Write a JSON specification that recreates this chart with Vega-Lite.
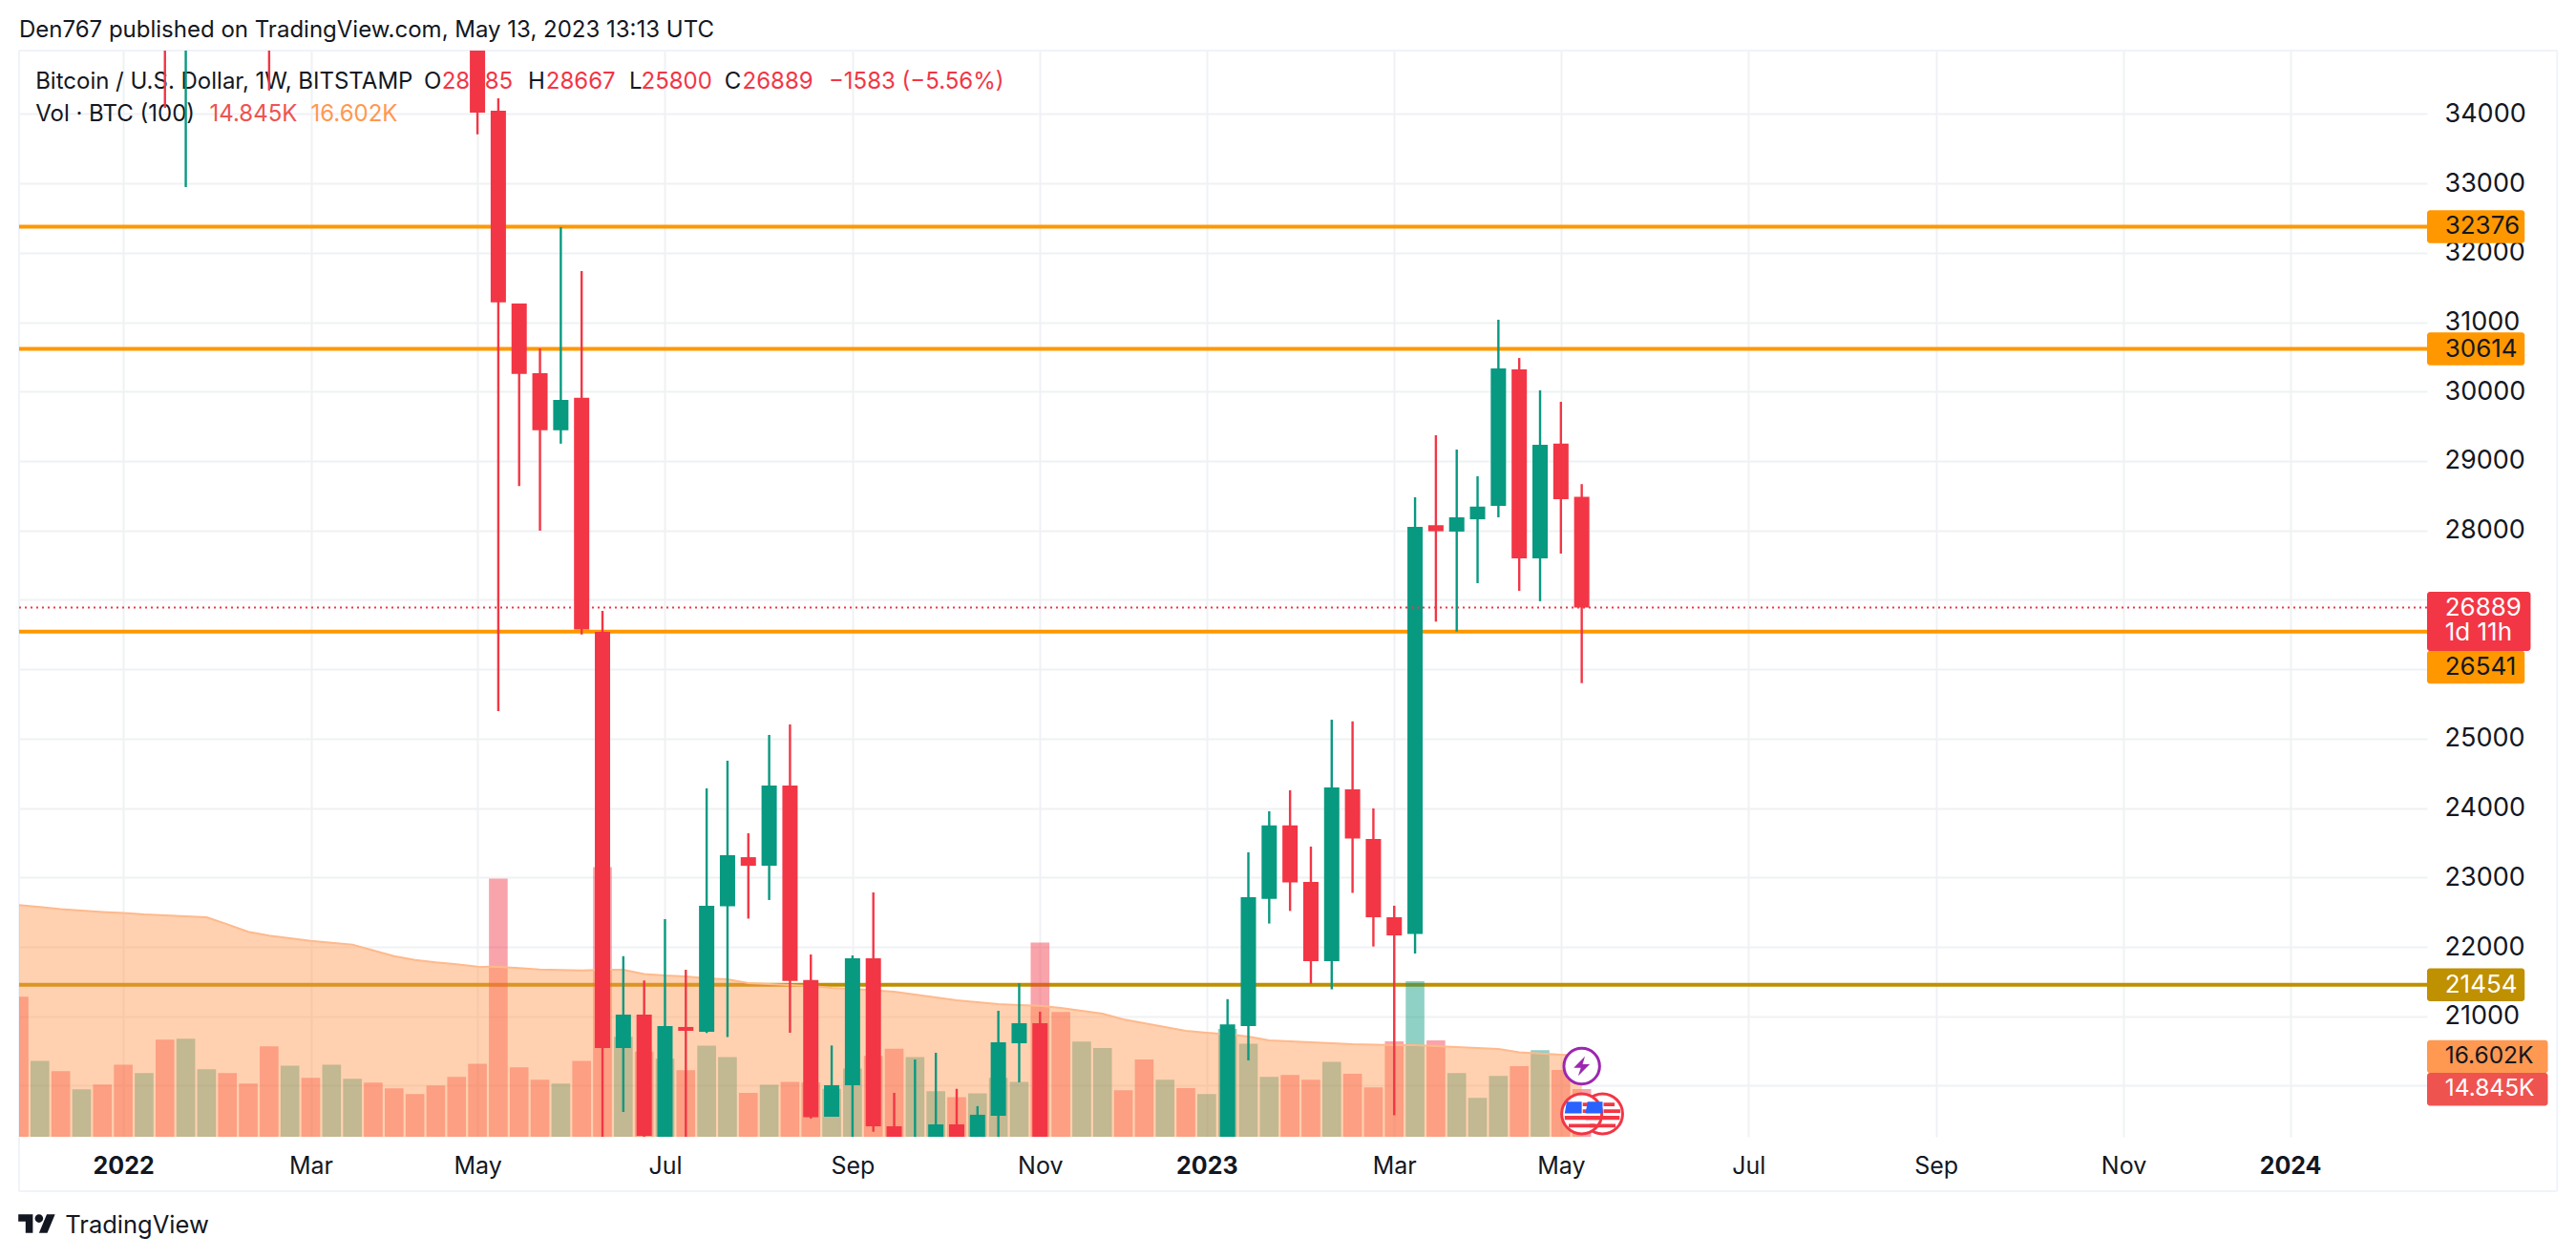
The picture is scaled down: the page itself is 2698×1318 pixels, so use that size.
{
  "$schema": "https://vega.github.io/schema/vega-lite/v6.json",
  "autosize": "none",
  "padding": {"left": 20, "top": 53, "right": 156, "bottom": 127},
  "width": 2522,
  "height": 1138,
  "background": "#ffffff",
  "config": {"view": {"stroke": null}, "font": "Inter"},
  "datasets": {
    "volume": [
      {"date":"2021-11-29","vol":19.70,"ma":24.53,"dir":"down"},
      {"date":"2021-12-06","vol":16.33,"ma":24.43,"dir":"up"},
      {"date":"2021-12-13","vol":15.78,"ma":24.32,"dir":"down"},
      {"date":"2021-12-20","vol":14.83,"ma":24.24,"dir":"up"},
      {"date":"2021-12-27","vol":15.08,"ma":24.17,"dir":"down"},
      {"date":"2022-01-03","vol":16.13,"ma":24.12,"dir":"down"},
      {"date":"2022-01-10","vol":15.68,"ma":24.04,"dir":"up"},
      {"date":"2022-01-17","vol":17.44,"ma":23.99,"dir":"down"},
      {"date":"2022-01-24","vol":17.49,"ma":23.94,"dir":"up"},
      {"date":"2022-01-31","vol":15.88,"ma":23.89,"dir":"up"},
      {"date":"2022-02-07","vol":15.68,"ma":23.52,"dir":"down"},
      {"date":"2022-02-14","vol":15.13,"ma":23.12,"dir":"down"},
      {"date":"2022-02-21","vol":17.09,"ma":22.92,"dir":"down"},
      {"date":"2022-02-28","vol":16.08,"ma":22.78,"dir":"up"},
      {"date":"2022-03-07","vol":15.43,"ma":22.65,"dir":"down"},
      {"date":"2022-03-14","vol":16.13,"ma":22.55,"dir":"up"},
      {"date":"2022-03-21","vol":15.38,"ma":22.45,"dir":"up"},
      {"date":"2022-03-28","vol":15.18,"ma":22.14,"dir":"down"},
      {"date":"2022-04-04","vol":14.88,"ma":21.84,"dir":"down"},
      {"date":"2022-04-11","vol":14.58,"ma":21.64,"dir":"down"},
      {"date":"2022-04-18","vol":15.03,"ma":21.51,"dir":"down"},
      {"date":"2022-04-25","vol":15.48,"ma":21.41,"dir":"down"},
      {"date":"2022-05-02","vol":16.18,"ma":21.29,"dir":"down"},
      {"date":"2022-05-09","vol":25.93,"ma":21.27,"dir":"down"},
      {"date":"2022-05-16","vol":15.98,"ma":21.21,"dir":"down"},
      {"date":"2022-05-23","vol":15.33,"ma":21.14,"dir":"down"},
      {"date":"2022-05-30","vol":15.13,"ma":21.11,"dir":"up"},
      {"date":"2022-06-06","vol":16.33,"ma":21.09,"dir":"down"},
      {"date":"2022-06-13","vol":26.53,"ma":21.12,"dir":"down"},
      {"date":"2022-06-20","vol":17.60,"ma":21.12,"dir":"up"},
      {"date":"2022-06-27","vol":16.82,"ma":20.90,"dir":"down"},
      {"date":"2022-07-04","vol":16.44,"ma":20.82,"dir":"up"},
      {"date":"2022-07-11","vol":15.83,"ma":20.77,"dir":"down"},
      {"date":"2022-07-18","vol":17.13,"ma":20.67,"dir":"up"},
      {"date":"2022-07-25","vol":16.53,"ma":20.62,"dir":"up"},
      {"date":"2022-08-01","vol":14.64,"ma":20.42,"dir":"down"},
      {"date":"2022-08-08","vol":15.07,"ma":20.37,"dir":"up"},
      {"date":"2022-08-15","vol":15.22,"ma":20.32,"dir":"down"},
      {"date":"2022-08-22","vol":15.19,"ma":20.27,"dir":"down"},
      {"date":"2022-08-29","vol":14.86,"ma":20.17,"dir":"up"},
      {"date":"2022-09-05","vol":15.92,"ma":20.12,"dir":"up"},
      {"date":"2022-09-12","vol":16.59,"ma":20.04,"dir":"down"},
      {"date":"2022-09-19","vol":16.97,"ma":19.97,"dir":"down"},
      {"date":"2022-09-26","vol":16.53,"ma":19.82,"dir":"up"},
      {"date":"2022-10-03","vol":14.73,"ma":19.67,"dir":"up"},
      {"date":"2022-10-10","vol":14.42,"ma":19.52,"dir":"down"},
      {"date":"2022-10-17","vol":14.62,"ma":19.42,"dir":"up"},
      {"date":"2022-10-24","vol":15.43,"ma":19.31,"dir":"up"},
      {"date":"2022-10-31","vol":15.22,"ma":19.26,"dir":"up"},
      {"date":"2022-11-07","vol":22.56,"ma":19.23,"dir":"down"},
      {"date":"2022-11-14","vol":18.90,"ma":19.11,"dir":"down"},
      {"date":"2022-11-21","vol":17.34,"ma":18.96,"dir":"up"},
      {"date":"2022-11-28","vol":17.00,"ma":18.81,"dir":"up"},
      {"date":"2022-12-05","vol":14.78,"ma":18.51,"dir":"down"},
      {"date":"2022-12-12","vol":16.40,"ma":18.31,"dir":"down"},
      {"date":"2022-12-19","vol":15.33,"ma":18.11,"dir":"up"},
      {"date":"2022-12-26","vol":14.89,"ma":17.91,"dir":"down"},
      {"date":"2023-01-02","vol":14.58,"ma":17.81,"dir":"up"},
      {"date":"2023-01-09","vol":18.01,"ma":17.73,"dir":"up"},
      {"date":"2023-01-16","vol":17.23,"ma":17.61,"dir":"up"},
      {"date":"2023-01-23","vol":15.48,"ma":17.41,"dir":"up"},
      {"date":"2023-01-30","vol":15.59,"ma":17.36,"dir":"down"},
      {"date":"2023-02-06","vol":15.33,"ma":17.30,"dir":"down"},
      {"date":"2023-02-13","vol":16.28,"ma":17.25,"dir":"up"},
      {"date":"2023-02-20","vol":15.65,"ma":17.20,"dir":"down"},
      {"date":"2023-02-27","vol":14.93,"ma":17.18,"dir":"down"},
      {"date":"2023-03-06","vol":17.35,"ma":17.15,"dir":"down"},
      {"date":"2023-03-13","vol":20.52,"ma":17.15,"dir":"up"},
      {"date":"2023-03-20","vol":17.41,"ma":17.10,"dir":"down"},
      {"date":"2023-03-27","vol":15.68,"ma":17.05,"dir":"up"},
      {"date":"2023-04-03","vol":14.38,"ma":17.00,"dir":"up"},
      {"date":"2023-04-10","vol":15.53,"ma":16.95,"dir":"up"},
      {"date":"2023-04-17","vol":16.05,"ma":16.78,"dir":"down"},
      {"date":"2023-04-24","vol":16.89,"ma":16.72,"dir":"up"},
      {"date":"2023-05-01","vol":15.85,"ma":16.65,"dir":"down"},
      {"date":"2023-05-08","vol":14.845,"ma":16.602,"dir":"down"}
    ],
    "candles": [
      {"date":"2022-01-17","open":36000,"high":36000,"low":34088,"close":35500,"dir":"down"},
      {"date":"2022-01-24","open":35500,"high":36000,"low":32947,"close":36000,"dir":"up"},
      {"date":"2022-02-21","open":36000,"high":36000,"low":34337,"close":35500,"dir":"down"},
      {"date":"2022-05-02","open":38000,"high":38500,"low":33707,"close":34018,"dir":"down"},
      {"date":"2022-05-09","open":34047,"high":34224,"low":25397,"close":31287,"dir":"down"},
      {"date":"2022-05-16","open":31269,"high":31269,"low":28639,"close":30256,"dir":"down"},
      {"date":"2022-05-23","open":30265,"high":30623,"low":27996,"close":29443,"dir":"down"},
      {"date":"2022-05-30","open":29443,"high":32370,"low":29250,"close":29880,"dir":"up"},
      {"date":"2022-06-06","open":29910,"high":31737,"low":26502,"close":26574,"dir":"down"},
      {"date":"2022-06-13","open":26539,"high":26841,"low":19100,"close":20543,"dir":"down"},
      {"date":"2022-06-20","open":20543,"high":21866,"low":19622,"close":21024,"dir":"up"},
      {"date":"2022-06-27","open":21024,"high":21516,"low":19100,"close":19278,"dir":"down"},
      {"date":"2022-07-04","open":19100,"high":22400,"low":19100,"close":20860,"dir":"up"},
      {"date":"2022-07-11","open":20846,"high":21670,"low":19100,"close":20790,"dir":"down"},
      {"date":"2022-07-18","open":20778,"high":24283,"low":20760,"close":22591,"dir":"up"},
      {"date":"2022-07-25","open":22585,"high":24682,"low":20700,"close":23321,"dir":"up"},
      {"date":"2022-08-01","open":23292,"high":23637,"low":22407,"close":23168,"dir":"down"},
      {"date":"2022-08-08","open":23168,"high":25054,"low":22675,"close":24325,"dir":"up"},
      {"date":"2022-08-15","open":24325,"high":25206,"low":20763,"close":21510,"dir":"down"},
      {"date":"2022-08-22","open":21522,"high":21890,"low":19527,"close":19546,"dir":"down"},
      {"date":"2022-08-29","open":19553,"high":20579,"low":19553,"close":20007,"dir":"up"},
      {"date":"2022-09-05","open":20007,"high":21877,"low":19100,"close":21836,"dir":"up"},
      {"date":"2022-09-12","open":21836,"high":22784,"low":19337,"close":19415,"dir":"down"},
      {"date":"2022-09-19","open":19415,"high":19897,"low":19100,"close":19100,"dir":"down"},
      {"date":"2022-09-26","open":19000,"high":20377,"low":19000,"close":19150,"dir":"up"},
      {"date":"2022-10-03","open":19100,"high":20474,"low":19100,"close":19443,"dir":"up"},
      {"date":"2022-10-10","open":19443,"high":19955,"low":19100,"close":19100,"dir":"down"},
      {"date":"2022-10-17","open":19100,"high":19705,"low":19100,"close":19581,"dir":"up"},
      {"date":"2022-10-24","open":19568,"high":21079,"low":19100,"close":20626,"dir":"up"},
      {"date":"2022-10-31","open":20611,"high":21478,"low":20049,"close":20900,"dir":"up"},
      {"date":"2022-11-07","open":20900,"high":21066,"low":19100,"close":19100,"dir":"down"},
      {"date":"2023-01-09","open":19100,"high":21247,"low":19100,"close":20883,"dir":"up"},
      {"date":"2023-01-16","open":20860,"high":23362,"low":20365,"close":22716,"dir":"up"},
      {"date":"2023-01-23","open":22692,"high":23954,"low":22336,"close":23749,"dir":"up"},
      {"date":"2023-01-30","open":23749,"high":24256,"low":22518,"close":22928,"dir":"down"},
      {"date":"2023-02-06","open":22936,"high":23445,"low":21468,"close":21795,"dir":"down"},
      {"date":"2023-02-13","open":21795,"high":25274,"low":21390,"close":24297,"dir":"up"},
      {"date":"2023-02-20","open":24270,"high":25249,"low":22778,"close":23560,"dir":"down"},
      {"date":"2023-02-27","open":23555,"high":23995,"low":22005,"close":22427,"dir":"down"},
      {"date":"2023-03-06","open":22427,"high":22593,"low":19574,"close":22165,"dir":"down"},
      {"date":"2023-03-13","open":22186,"high":28478,"low":21905,"close":28051,"dir":"up"},
      {"date":"2023-03-20","open":28075,"high":29371,"low":26686,"close":27988,"dir":"down"},
      {"date":"2023-03-27","open":27983,"high":29165,"low":26543,"close":28189,"dir":"up"},
      {"date":"2023-04-03","open":28160,"high":28780,"low":27240,"close":28343,"dir":"up"},
      {"date":"2023-04-10","open":28354,"high":31035,"low":28189,"close":30333,"dir":"up"},
      {"date":"2023-04-17","open":30319,"high":30484,"low":27130,"close":27597,"dir":"down"},
      {"date":"2023-04-24","open":27597,"high":30018,"low":26980,"close":29234,"dir":"up"},
      {"date":"2023-05-01","open":29250,"high":29853,"low":27666,"close":28450,"dir":"down"},
      {"date":"2023-05-08","open":28485,"high":28667,"low":25800,"close":26889,"dir":"down"}
    ]
  },
  "resolve": {"scale": {"y": "independent", "color": "independent"}, "axis": {"x": "independent"}},
  "layer": [
    {
      "data": {"values": [{"date": "2021-11-29"}, {"date": "2024-03-30T17:00:00Z"}]},
      "mark": {"type": "rule", "color": "#f0f3fa", "strokeWidth": 2},
      "encoding": {
        "x": {
          "field": "date",
          "type": "temporal",
          "scale": {"type": "utc", "padding": 0, "domain": [{"year": 2021, "month": 11, "date": 29, "utc": true}, {"year": 2024, "month": 2, "date": 16, "utc": true}]},
          "axis": {
            "title": null,
            "orient": "bottom",
            "values": [
              {"year": 2022, "month": 1, "date": 3, "utc": true},
              {"year": 2022, "month": 3, "date": 7, "utc": true},
              {"year": 2022, "month": 5, "date": 2, "utc": true},
              {"year": 2022, "month": 7, "date": 4, "utc": true},
              {"year": 2022, "month": 9, "date": 5, "utc": true},
              {"year": 2022, "month": 11, "date": 7, "utc": true},
              {"year": 2023, "month": 1, "date": 2, "utc": true},
              {"year": 2023, "month": 3, "date": 6, "utc": true},
              {"year": 2023, "month": 5, "date": 1, "utc": true},
              {"year": 2023, "month": 7, "date": 3, "utc": true},
              {"year": 2023, "month": 9, "date": 4, "utc": true},
              {"year": 2023, "month": 11, "date": 6, "utc": true},
              {"year": 2024, "month": 1, "date": 1, "utc": true}
            ],
            "labelExpr": "utcmonth(datum.value) == 0 ? utcFormat(datum.value, '%Y') : utcFormat(datum.value, '%b')",
            "labelFontWeight": {"condition": {"test": "utcmonth(datum.value) == 0", "value": "bold"}, "value": "normal"},
            "labelFontSize": 25,
            "labelColor": "#131722",
            "labelPadding": 18,
            "labelOverlap": false,
            "labelFlush": false,
            "labelBound": false,
            "ticks": false,
            "domain": false,
            "grid": true,
            "gridColor": "#f0f1f4",
            "gridWidth": 2
          }
        },
        "y": {"datum": 18480, "type": "quantitative", "scale": {"domain": [19264, 34913], "padding": 0, "zero": false, "nice": false}, "axis": null},
        "y2": {"datum": 34913}
      }
    },
    {
      "data": {"values": [{"price": 34913}, {"price": 18480}]},
      "mark": {"type": "rule", "color": "#f0f3fa", "strokeWidth": 2},
      "encoding": {
        "x": {"datum": {"year": 2021, "month": 11, "date": 29, "utc": true}, "type": "temporal", "axis": null},
        "x2": {"datum": {"year": 2024, "month": 3, "date": 30, "hours": 17, "utc": true}},
        "y": {
          "field": "price",
          "type": "quantitative",
          "scale": {"domain": [19264, 34913], "padding": 0, "zero": false, "nice": false},
          "axis": {
            "title": null,
            "orient": "right",
            "values": [20000, 21000, 22000, 23000, 24000, 25000, 26000, 27000, 28000, 29000, 30000, 31000, 32000, 33000, 34000],
            "labelExpr": "indexof([20000, 26000, 27000], datum.value) >= 0 ? '' : format(datum.value, 'd')",
            "labelFontSize": 27,
            "labelColor": "#131722",
            "labelPadding": 18,
            "labelOverlap": false,
            "labelBound": false,
            "ticks": false,
            "domain": false,
            "grid": true,
            "gridColor": "#f0f1f4",
            "gridWidth": 2
          }
        }
      }
    },
    {
      "data": {"values": [
        {"price": 32376, "kind": "major"},
        {"price": 30614, "kind": "major"},
        {"price": 26541, "kind": "major"},
        {"price": 21454, "kind": "minor"}
      ]},
      "mark": {"type": "rule", "strokeWidth": 4},
      "encoding": {
        "y": {"field": "price", "type": "quantitative", "scale": {"domain": [19264, 34913], "padding": 0, "zero": false, "nice": false}, "axis": null},
        "color": {"field": "kind", "type": "nominal", "scale": {"domain": ["major", "minor"], "range": ["#ff9800", "#bf9000"]}, "legend": null}
      }
    },
    {
      "data": {"name": "volume"},
      "mark": {"type": "bar", "size": 19.6, "opacity": 0.45, "clip": true},
      "encoding": {
        "x": {"field": "date", "type": "temporal", "axis": null},
        "y": {"field": "vol", "type": "quantitative", "scale": {"domain": [12.33, 69.52], "padding": 0, "zero": false, "nice": false}, "axis": null},
        "color": {"field": "dir", "type": "nominal", "scale": {"domain": ["up", "down"], "range": ["#089981", "#f23645"]}, "legend": null}
      }
    },
    {
      "data": {"name": "volume"},
      "mark": {"type": "area", "color": "#ff9850", "opacity": 0.45, "clip": true, "line": {"stroke": "#ffb98c", "strokeWidth": 2, "opacity": 1}},
      "encoding": {
        "x": {"field": "date", "type": "temporal", "axis": null},
        "y": {"field": "ma", "type": "quantitative", "scale": {"domain": [12.33, 69.52], "padding": 0, "zero": false, "nice": false}, "axis": null}
      }
    },
    {
      "data": {"values": [
        {"text": "Den767 published on TradingView.com, May 13, 2023 13:13 UTC", "date": "2021-11-29", "price": 35202, "tone": "ink"},
        {"text": "Bitcoin / U.S. Dollar, 1W, BITSTAMP", "date": "2021-12-04T12:00:00Z", "price": 34463, "tone": "ink"},
        {"text": "O", "date": "2022-04-14", "price": 34463, "tone": "ink"},
        {"text": "28485", "date": "2022-04-20", "price": 34463, "tone": "down"},
        {"text": "H", "date": "2022-05-19", "price": 34463, "tone": "ink"},
        {"text": "28667", "date": "2022-05-25", "price": 34463, "tone": "down"},
        {"text": "L", "date": "2022-06-22", "price": 34463, "tone": "ink"},
        {"text": "25800", "date": "2022-06-26", "price": 34463, "tone": "down"},
        {"text": "C", "date": "2022-07-24", "price": 34463, "tone": "ink"},
        {"text": "26889", "date": "2022-07-30", "price": 34463, "tone": "down"},
        {"text": "−1583 (−5.56%)", "date": "2022-08-28", "price": 34463, "tone": "down"},
        {"text": "Vol · BTC (100)", "date": "2021-12-04T12:00:00Z", "price": 33992, "tone": "ink"},
        {"text": "14.845K", "date": "2022-02-01", "price": 33992, "tone": "vol"},
        {"text": "16.602K", "date": "2022-03-07", "price": 33992, "tone": "ma"}
      ]},
      "mark": {"type": "text", "align": "left", "baseline": "middle", "fontSize": 24},
      "encoding": {
        "x": {"field": "date", "type": "temporal", "axis": null},
        "y": {"field": "price", "type": "quantitative", "scale": {"domain": [19264, 34913], "padding": 0, "zero": false, "nice": false}, "axis": null},
        "text": {"field": "text"},
        "color": {"field": "tone", "type": "nominal", "scale": {"domain": ["ink", "down", "vol", "ma"], "range": ["#131722", "#f23645", "#ef5350", "#ff9850"]}, "legend": null}
      }
    },
    {
      "data": {"name": "candles"},
      "mark": {"type": "rule", "strokeWidth": 2.4, "clip": true},
      "encoding": {
        "x": {"field": "date", "type": "temporal", "axis": null},
        "y": {"field": "low", "type": "quantitative", "scale": {"domain": [19264, 34913], "padding": 0, "zero": false, "nice": false}, "axis": null},
        "y2": {"field": "high"},
        "color": {"field": "dir", "type": "nominal", "scale": {"domain": ["up", "down"], "range": ["#089981", "#f23645"]}, "legend": null}
      }
    },
    {
      "data": {"name": "candles"},
      "mark": {"type": "bar", "size": 16, "clip": true},
      "encoding": {
        "x": {"field": "date", "type": "temporal", "axis": null},
        "y": {"field": "open", "type": "quantitative", "scale": {"domain": [19264, 34913], "padding": 0, "zero": false, "nice": false}, "axis": null},
        "y2": {"field": "close"},
        "color": {"field": "dir", "type": "nominal", "scale": {"domain": ["up", "down"], "range": ["#089981", "#f23645"]}, "legend": null}
      }
    },
    {
      "data": {"values": [{"price": 26889}]},
      "mark": {"type": "rule", "color": "#f23645", "strokeWidth": 2, "strokeDash": [2, 4]},
      "encoding": {
        "y": {"field": "price", "type": "quantitative", "scale": {"domain": [19264, 34913], "padding": 0, "zero": false, "nice": false}, "axis": null}
      }
    },
    {
      "data": {"values": [
        {"date": "2023-05-15", "price": 19595, "event": "flag"},
        {"date": "2023-05-08", "price": 19595, "event": "flag"}
      ]},
      "layer": [
        {
          "mark": {"type": "point", "shape": "circle", "size": 1764, "filled": true, "fill": "#ffffff", "stroke": "#f23645", "strokeWidth": 3, "opacity": 1}
        },
        {
          "mark": {"type": "point", "shape": "M-.85 .1H.85V.3H-.85ZM-.65 .5H.65V.68H-.65ZM.05 -.22H.88V-.04H.05ZM.05 -.56H.6V-.38H.05Z", "size": 1764, "filled": true, "fill": "#f23645", "opacity": 1}
        },
        {
          "mark": {"type": "point", "shape": "M-.75 -.6H0V-.02H-.85Z", "size": 1764, "filled": true, "fill": "#2962ff", "opacity": 1}
        }
      ],
      "encoding": {
        "x": {"field": "date", "type": "temporal", "axis": null},
        "y": {"field": "price", "type": "quantitative", "scale": {"domain": [19264, 34913], "padding": 0, "zero": false, "nice": false}, "axis": null}
      }
    },
    {
      "data": {"values": [{"date": "2023-05-08", "price": 20282, "event": "earnings"}]},
      "layer": [
        {
          "mark": {"type": "point", "shape": "circle", "size": 1400, "filled": true, "fill": "#ffffff", "stroke": "#9c27b0", "strokeWidth": 3, "opacity": 1}
        },
        {
          "mark": {"type": "point", "shape": "M.18 -.55L-.45 .1H-.05L-.2 .55L.45 -.1H.05Z", "size": 1400, "filled": true, "fill": "#9c27b0", "opacity": 1}
        }
      ],
      "encoding": {
        "x": {"field": "date", "type": "temporal", "axis": null},
        "y": {"field": "price", "type": "quantitative", "scale": {"domain": [19264, 34913], "padding": 0, "zero": false, "nice": false}, "axis": null}
      }
    },
    {
      "data": {"values": [
        {"at": 32376, "kind": "major"},
        {"at": 30614, "kind": "major"},
        {"at": 26030, "kind": "major"},
        {"at": 21454, "kind": "minor"}
      ]},
      "mark": {"type": "bar", "size": 34.5, "cornerRadius": 3, "orient": "horizontal"},
      "encoding": {
        "x": {"datum": {"year": 2024, "month": 2, "date": 16, "utc": true}, "type": "temporal", "axis": null},
        "x2": {"datum": {"year": 2024, "month": 3, "date": 19, "hours": 19, "utc": true}},
        "y": {"field": "at", "type": "quantitative", "scale": {"domain": [19264, 34913], "padding": 0, "zero": false, "nice": false}, "axis": null},
        "color": {"field": "kind", "type": "nominal", "scale": {"domain": ["major", "minor"], "range": ["#ff9800", "#bf9000"]}, "legend": null}
      }
    },
    {
      "data": {"values": [{"at": 26690}]},
      "mark": {"type": "bar", "size": 62, "cornerRadius": 3, "orient": "horizontal", "color": "#f23645"},
      "encoding": {
        "x": {"datum": {"year": 2024, "month": 2, "date": 16, "utc": true}, "type": "temporal", "axis": null},
        "x2": {"datum": {"year": 2024, "month": 3, "date": 21, "hours": 19, "utc": true}},
        "y": {"field": "at", "type": "quantitative", "scale": {"domain": [19264, 34913], "padding": 0, "zero": false, "nice": false}, "axis": null}
      }
    },
    {
      "data": {"values": [
        {"at": 20420, "kind": "ma"},
        {"at": 19948, "kind": "vol"}
      ]},
      "mark": {"type": "bar", "size": 34.5, "cornerRadius": 3, "orient": "horizontal"},
      "encoding": {
        "x": {"datum": {"year": 2024, "month": 2, "date": 16, "utc": true}, "type": "temporal", "axis": null},
        "x2": {"datum": {"year": 2024, "month": 3, "date": 27, "hours": 14, "utc": true}},
        "y": {"field": "at", "type": "quantitative", "scale": {"domain": [19264, 34913], "padding": 0, "zero": false, "nice": false}, "axis": null},
        "color": {"field": "kind", "type": "nominal", "scale": {"domain": ["ma", "vol"], "range": ["#ff9850", "#ef5350"]}, "legend": null}
      }
    },
    {
      "data": {"values": [
        {"label": "32376", "at": 32376, "tone": "dark"},
        {"label": "30614", "at": 30614, "tone": "dark"},
        {"label": "26889", "at": 26889, "tone": "light"},
        {"label": "1d 11h", "at": 26518, "tone": "light"},
        {"label": "26541", "at": 26030, "tone": "dark"},
        {"label": "21454", "at": 21454, "tone": "light"}
      ]},
      "mark": {"type": "text", "align": "left", "baseline": "middle", "fontSize": 26},
      "encoding": {
        "x": {"datum": {"year": 2024, "month": 2, "date": 22, "utc": true}, "type": "temporal", "axis": null},
        "y": {"field": "at", "type": "quantitative", "scale": {"domain": [19264, 34913], "padding": 0, "zero": false, "nice": false}, "axis": null},
        "text": {"field": "label"},
        "color": {"field": "tone", "type": "nominal", "scale": {"domain": ["dark", "light"], "range": ["#131722", "#ffffff"]}, "legend": null}
      }
    },
    {
      "data": {"values": [
        {"label": "16.602K", "at": 20420, "tone": "dark"},
        {"label": "14.845K", "at": 19948, "tone": "light"}
      ]},
      "mark": {"type": "text", "align": "left", "baseline": "middle", "fontSize": 24.5},
      "encoding": {
        "x": {"datum": {"year": 2024, "month": 2, "date": 22, "utc": true}, "type": "temporal", "axis": null},
        "y": {"field": "at", "type": "quantitative", "scale": {"domain": [19264, 34913], "padding": 0, "zero": false, "nice": false}, "axis": null},
        "text": {"field": "label"},
        "color": {"field": "tone", "type": "nominal", "scale": {"domain": ["dark", "light"], "range": ["#131722", "#ffffff"]}, "legend": null}
      }
    },
    {
      "data": {"values": [{"text": "TradingView", "date": "2021-12-14T12:00:00Z", "price": 17986}]},
      "mark": {"type": "text", "align": "left", "baseline": "middle", "fontSize": 25.5, "color": "#131722"},
      "encoding": {
        "x": {"field": "date", "type": "temporal", "axis": null},
        "y": {"field": "price", "type": "quantitative", "scale": {"domain": [19264, 34913], "padding": 0, "zero": false, "nice": false}, "axis": null},
        "text": {"field": "text"}
      }
    },
    {
      "data": {"values": [{"date": "2021-12-05", "price": 18013}]},
      "mark": {"type": "point", "shape": "M-.222 .5H-.611V-.111H-1V-.5H-.222ZM.556 .5H.111L.528 -.5H.972ZM.333 -.278A.222 .222 0 1 1 -.111 -.278A.222 .222 0 1 1 .333 -.278Z", "size": 1521, "filled": true, "fill": "#131722", "opacity": 1},
      "encoding": {
        "x": {"field": "date", "type": "temporal", "axis": null},
        "y": {"field": "price", "type": "quantitative", "scale": {"domain": [19264, 34913], "padding": 0, "zero": false, "nice": false}, "axis": null}
      }
    }
  ]
}
